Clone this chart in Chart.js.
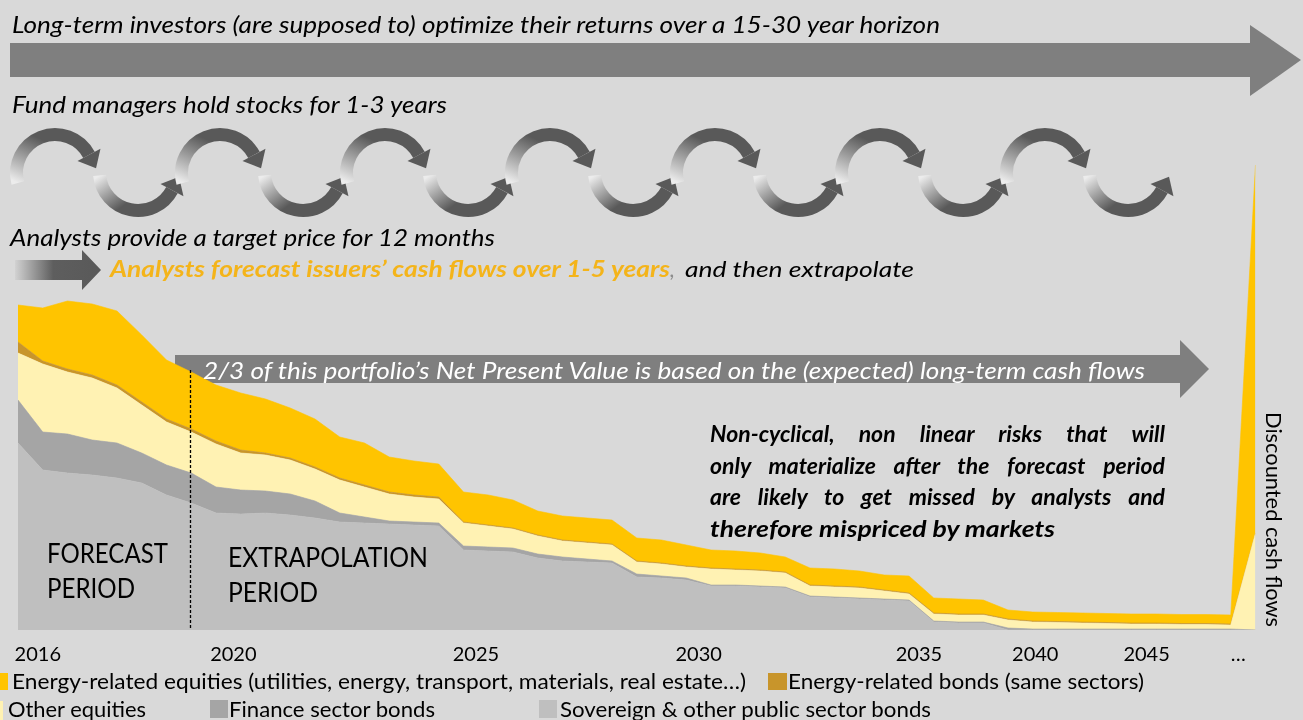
<!DOCTYPE html>
<html>
<head>
<meta charset="utf-8">
<script src="https://cdn.jsdelivr.net/npm/chart.js@4.4.1/dist/chart.umd.min.js"></script>
<style>
html,body{margin:0;padding:0;background:#d9d9d9;overflow:hidden}
#wrap{position:relative;width:1303px;height:720px}
#under,#over,#c{position:absolute;left:0;top:0}
#over{pointer-events:none}
svg text{font-family:Lato,"Open Sans",sans-serif;fill:#000}
</style>
</head>
<body>
<div id="wrap">
<svg id="under" width="1303" height="720">
  <rect x="175" y="355" width="1006" height="28" fill="#7f7f7f"/>
  <polygon points="1180,340 1209,369 1180,398" fill="#7f7f7f"/>
</svg>
<canvas id="c" width="1303" height="720"></canvas>
<svg id="over" width="1303" height="720">
  <!-- top long arrow -->
  <rect x="10" y="43" width="1242" height="34" fill="#7f7f7f"/>
  <polygon points="1250,25 1301,60 1250,96" fill="#7f7f7f"/>
  <text x="12" y="33" font-size="23" font-style="italic" textLength="928" lengthAdjust="spacingAndGlyphs">Long-term investors (are supposed to) optimize their returns over a 15-30 year horizon</text>
  <text x="12" y="113" font-size="23" font-style="italic" textLength="435" lengthAdjust="spacingAndGlyphs">Fund managers hold stocks for 1-3 years</text>
  <text x="10" y="246" font-size="23" font-style="italic" textLength="485" lengthAdjust="spacingAndGlyphs">Analysts provide a target price for 12 months</text>
  <!-- small gradient arrow -->
  <defs>
    <linearGradient id="sa" x1="15" y1="0" x2="100" y2="0" gradientUnits="userSpaceOnUse">
      <stop offset="0" stop-color="#d2d2d2"/>
      <stop offset="0.45" stop-color="#5e5e5e"/>
      <stop offset="1" stop-color="#595959"/>
    </linearGradient>
  </defs>
  <polygon points="15,260 82,260 82,250 101,270 82,290 82,280 15,280" fill="url(#sa)"/>
  <text x="110" y="277" font-size="22" font-style="italic" font-weight="bold" style="fill:#f4b41a" textLength="560" lengthAdjust="spacingAndGlyphs">Analysts forecast issuers’ cash flows over 1-5 years</text>
  <text x="670" y="277" font-size="22" font-style="italic" style="fill:#8c8c8c">,</text>
  <text x="685" y="277" font-size="22" font-style="italic" textLength="229" lengthAdjust="spacingAndGlyphs">and then extrapolate</text>
  <!-- band text -->
  <text x="203" y="379" font-size="23" font-style="italic" style="fill:#fff" textLength="942" lengthAdjust="spacingAndGlyphs">2/3 of this portfolio’s Net Present Value is based on the (expected) long-term cash flows</text>
  <!-- dotted separator -->
  <line x1="190.5" y1="370" x2="190.5" y2="630" stroke="#000" stroke-width="1.3" stroke-dasharray="3,2"/>
  <text x="47" y="563" font-size="27" textLength="121" lengthAdjust="spacingAndGlyphs">FORECAST</text>
  <text x="47" y="598" font-size="27" textLength="88" lengthAdjust="spacingAndGlyphs">PERIOD</text>
  <text x="228" y="567" font-size="27" textLength="200" lengthAdjust="spacingAndGlyphs">EXTRAPOLATION</text>
  <text x="228" y="602" font-size="27" textLength="90" lengthAdjust="spacingAndGlyphs">PERIOD</text>
  <!-- paragraph (justified by word spacing) -->
  <text class="just" data-w="455" x="710" y="442" font-size="23" font-style="italic" font-weight="bold">Non-cyclical, non linear risks that will</text>
  <text class="just" data-w="455" x="710" y="473.5" font-size="23" font-style="italic" font-weight="bold">only materialize after the forecast period</text>
  <text class="just" data-w="455" x="710" y="505" font-size="23" font-style="italic" font-weight="bold">are likely to get missed by analysts and</text>
  <text x="710" y="536.5" font-size="23" font-style="italic" font-weight="bold" textLength="345" lengthAdjust="spacingAndGlyphs">therefore mispriced by markets</text>
  <!-- vertical label -->
  <text transform="translate(1266,412) rotate(90)" font-size="21" textLength="215" lengthAdjust="spacingAndGlyphs">Discounted cash flows</text>
  <!-- legend -->
  <rect x="-11" y="673" width="19" height="17" fill="#ffc400"/>
  <text x="12" y="689" font-size="21" textLength="734" lengthAdjust="spacingAndGlyphs">Energy-related equities (utilities, energy, transport, materials, real estate…)</text>
  <rect x="768" y="673" width="19" height="17" fill="#c8952b"/>
  <text x="788" y="689" font-size="21" textLength="356" lengthAdjust="spacingAndGlyphs">Energy-related bonds (same sectors)</text>
  <rect x="-16" y="701" width="19" height="19" fill="#fff2b3"/>
  <text x="8" y="717" font-size="21" textLength="138" lengthAdjust="spacingAndGlyphs">Other equities</text>
  <rect x="210" y="700" width="18" height="18" fill="#a5a5a5"/>
  <text x="229" y="717" font-size="21" textLength="206" lengthAdjust="spacingAndGlyphs">Finance sector bonds</text>
  <rect x="539" y="700" width="18" height="18" fill="#bfbfbf"/>
  <text x="560" y="717" font-size="21" textLength="371" lengthAdjust="spacingAndGlyphs">Sovereign &amp; other public sector bonds</text>
</svg>
</div>
<script>
// ---- Data (layer thickness, arbitrary units, one value per period) ----
const sovereignBonds = [37.4, 32, 31.4, 31, 30.4, 29.4, 27, 25.4, 23.4, 23.2, 23.4, 23, 22.4, 21.6, 21.4, 21.2, 21, 20.8, 16, 15.8, 15.6, 14.4, 13.8, 13.6, 13.4, 10.6, 10.4, 10, 8.8, 8.8, 8.6, 8.4, 6.6, 6.4, 6.2, 6, 5.8, 1.6, 1.4, 1.4, 0, 0, 0, 0, 0, 0, 0, 0, 0, 0, 0];
const financeBonds = [8.6, 7.6, 7.8, 7, 7, 6, 6, 6, 5.2, 4.8, 4.4, 4.2, 3.4, 1.8, 1.2, 0.6, 0.6, 0.6, 0.8, 0.8, 0.8, 0.8, 0.8, 0.6, 0.4, 0.6, 0.4, 0.4, 0.2, 0.2, 0.2, 0.2, 0.2, 0.2, 0.2, 0.2, 0.2, 0.2, 0.2, 0.2, 0.4, 0.2, 0.2, 0.2, 0.2, 0.2, 0.2, 0.2, 0.2, 0.2, 0];
const otherEquities = [9.4, 13.6, 12.4, 12.4, 11, 9.6, 8.6, 8.2, 8.6, 7.4, 7.2, 6.8, 6.4, 6.6, 6, 5.4, 5, 4.8, 4.6, 4.2, 3.8, 3.6, 3.2, 3.2, 3.2, 2.4, 2.4, 2.2, 3.2, 3, 3, 2.8, 2, 2, 2, 1.6, 1.2, 1.4, 1.4, 1.4, 1.6, 1.4, 1.3, 1.2, 1.1, 1, 1, 0.9, 0.9, 0.8, 19.4];
const energyBonds = [2.2, 0.6, 0.6, 0.6, 0.6, 0.6, 0.6, 0.6, 0.6, 0.6, 0.4, 0.4, 0.4, 0.4, 0.4, 0.4, 0.4, 0.4, 0.2, 0.2, 0.2, 0.2, 0.2, 0.2, 0.2, 0.2, 0.2, 0.2, 0.2, 0.2, 0.2, 0.2, 0.2, 0.2, 0.2, 0.2, 0.2, 0.2, 0.2, 0.2, 0.2, 0.2, 0.2, 0.2, 0.2, 0.2, 0.2, 0.2, 0.2, 0.2, 0];
const energyEquities = [7.4, 10.6, 13.6, 14.2, 14.8, 13.4, 11.8, 11.4, 11.2, 11.4, 10.8, 10, 9.6, 8.2, 8.4, 7, 6.8, 6.6, 6, 6, 5.6, 4.8, 4.8, 4.8, 4.8, 4.6, 4.6, 4.2, 3.6, 3.6, 3.4, 3, 3.4, 3.4, 3.2, 3, 3.4, 3, 3, 2.8, 1.8, 1.8, 1.8, 1.8, 1.8, 1.8, 1.8, 1.8, 1.8, 1.8, 73.6];
const tickLabels = ['2016', '2020', '2025', '2030', '2035', '2040', '2045', '…'];
const tickAt = [0.8, 8.7, 18.5, 27.5, 36.4, 41.1, 45.6, 49.3];

const series = [
  {label: 'Sovereign & other public sector bonds', values: sovereignBonds, color: '#bfbfbf'},
  {label: 'Finance sector bonds', values: financeBonds, color: '#a5a5a5'},
  {label: 'Other equities', values: otherEquities, color: '#fff2b3'},
  {label: 'Energy-related bonds (same sectors)', values: energyBonds, color: '#c8952b'},
  {label: 'Energy-related equities (utilities, energy, transport, materials, real estate…)', values: energyEquities, color: '#ffc400'}
];

new Chart(document.getElementById('c'), {
  type: 'line',
  data: {
    datasets: series.map((s, k) => ({
      label: s.label,
      data: s.values.map((v, i) => ({x: i, y: v})),
      backgroundColor: s.color,
      borderColor: s.color,
      borderWidth: 0.6,
      pointRadius: 0,
      tension: 0,
      fill: k === 0 ? 'origin' : '-1'
    }))
  },
  options: {
    responsive: false,
    animation: false,
    layout: {padding: {left: 18, right: 47.5, top: 160, bottom: 0}},
    plugins: {legend: {display: false}, tooltip: {enabled: false}},
    scales: {
      x: {
        type: 'linear', min: 0, max: 50,
        grid: {display: false, drawTicks: false},
        border: {display: false},
        afterBuildTicks: s => { s.ticks = tickAt.map(v => ({value: v})); },
        afterFit: s => { s.height = 90; },
        ticks: {
          autoSkip: false, maxRotation: 0, minRotation: 0, padding: 13,
          color: '#000', font: {family: 'Lato', size: 20},
          callback: (v, i) => tickLabels[i]
        }
      },
      y: {stacked: true, min: 0, max: 94, display: false}
    }
  }
});

// ---- justify paragraph lines via word spacing ----
document.querySelectorAll('text.just').forEach(t => {
  const target = +t.getAttribute('data-w');
  const natural = t.getComputedTextLength();
  const gaps = t.textContent.trim().split(/\s+/).length - 1;
  if (natural > target) {
    t.setAttribute('textLength', target);
    t.setAttribute('lengthAdjust', 'spacingAndGlyphs');
  } else if (gaps > 0) {
    t.setAttribute('word-spacing', ((target - natural) / gaps).toFixed(2));
  }
});

// ---- decorative curved arrows ----
const over = document.getElementById('over');
const NS = 'http://www.w3.org/2000/svg';
function el(tag, attrs, parent) {
  const e = document.createElementNS(NS, tag);
  for (const k in attrs) e.setAttribute(k, attrs[k]);
  (parent || over).appendChild(e);
  return e;
}
const defs = el('defs', {});
function P(cx, cy, r, deg) { const a = deg * Math.PI / 180; return [cx + r * Math.cos(a), cy - r * Math.sin(a)]; }
let gid = 0;
function wave(cx, cy, hump) {
  const r = 38.5, a0 = hump ? 195 : 185, a1 = hump ? 28 : 332;
  const s = P(cx, cy, r, a0), e = P(cx, cy, r, a1), g = P(cx, cy, r, hump ? 115 : 245);
  const t = a1 * Math.PI / 180;
  const d = hump ? [Math.sin(t), Math.cos(t)] : [-Math.sin(t), -Math.cos(t)];
  const n = [d[1], -d[0]];
  const id = 'wg' + (gid++);
  const lg = el('linearGradient', {id: id, gradientUnits: 'userSpaceOnUse', x1: s[0], y1: s[1], x2: g[0], y2: g[1]}, defs);
  el('stop', {offset: '0', 'stop-color': '#ececec'}, lg);
  el('stop', {offset: '1', 'stop-color': '#595959'}, lg);
  el('path', {d: `M${s[0]},${s[1]} A${r},${r} 0 0 ${hump ? 1 : 0} ${e[0]},${e[1]}`, fill: 'none', stroke: `url(#${id})`, 'stroke-width': 13});
  const hw = 13, hl = 15;
  el('polygon', {points: `${e[0] + n[0] * hw},${e[1] + n[1] * hw} ${e[0] - n[0] * hw},${e[1] - n[1] * hw} ${e[0] + d[0] * hl},${e[1] + d[1] * hl}`, fill: '#595959'});
}
for (let k = 0; k < 7; k++) { wave(55 + 165 * k, 173, true); wave(138 + 165 * k, 172, false); }
</script>
</body>
</html>
